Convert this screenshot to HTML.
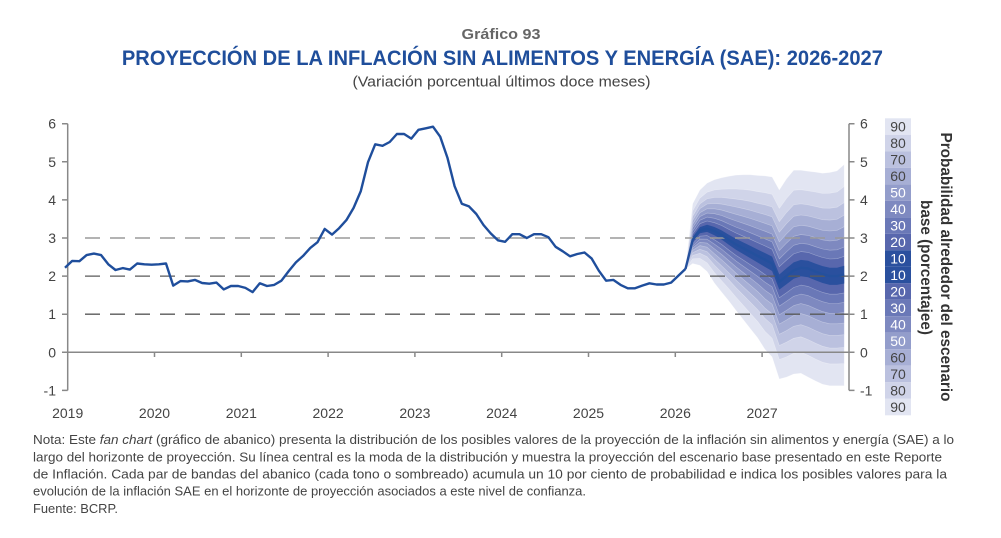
<!DOCTYPE html>
<html><head><meta charset="utf-8">
<style>
html,body{margin:0;padding:0;background:#fff;}
svg{display:block;}
text{font-family:"Liberation Sans",sans-serif;}
</style></head><body>
<svg id="s" width="1001" height="538" viewBox="0 0 1001 538" xmlns="http://www.w3.org/2000/svg">
<rect width="1001" height="538" fill="#fff"/>
<text x="501" y="39" text-anchor="middle" font-size="14.5" font-weight="bold" fill="#666" textLength="79" lengthAdjust="spacingAndGlyphs">Gráfico 93</text>
<text x="502.4" y="65" text-anchor="middle" font-size="21" font-weight="bold" fill="#1f4e9b" textLength="761" lengthAdjust="spacingAndGlyphs">PROYECCIÓN DE LA INFLACIÓN SIN ALIMENTOS Y ENERGÍA (SAE): 2026-2027</text>
<text x="501.5" y="86.5" text-anchor="middle" font-size="15" fill="#444" textLength="298" lengthAdjust="spacingAndGlyphs">(Variación porcentual últimos doce meses)</text>

<g id="fan"></g>

<!-- gridlines -->
<line x1="85" y1="238" x2="849" y2="238" stroke="#9a9a9a" stroke-width="1.6" stroke-dasharray="15 10"/>
<line x1="85" y1="276.1" x2="849" y2="276.1" stroke="#5a5a5a" stroke-width="1.3" stroke-dasharray="15 10"/>
<line x1="85" y1="314.2" x2="849" y2="314.2" stroke="#5a5a5a" stroke-width="1.3" stroke-dasharray="15 10"/>

<!-- axes -->
<g stroke="#888" stroke-width="1.5" fill="none">
<line x1="67.7" y1="352.3" x2="849" y2="352.3"/>
<line x1="67.7" y1="123.7" x2="67.7" y2="390.4"/>
<line x1="849" y1="123.7" x2="849" y2="390.4"/>
<path d="M62,123.7H67.7M62,161.8H67.7M62,199.9H67.7M62,238H67.7M62,276.1H67.7M62,314.2H67.7M62,352.3H67.7M62,390.4H67.7"/>
<path d="M849,123.7H854.5M849,161.8H854.5M849,199.9H854.5M849,238H854.5M849,276.1H854.5M849,314.2H854.5M849,352.3H854.5M849,390.4H854.5"/>
<path d="M154.5,352.3V357M241.3,352.3V357M328.1,352.3V357M414.9,352.3V357M501.7,352.3V357M588.5,352.3V357M675.3,352.3V357M762.1,352.3V357"/>
</g>

<g font-size="14" fill="#444" text-anchor="end">
<text x="56" y="128.7">6</text>
<text x="56" y="166.8">5</text>
<text x="56" y="204.9">4</text>
<text x="56" y="243">3</text>
<text x="56" y="281.1">2</text>
<text x="56" y="319.2">1</text>
<text x="56" y="357.3">0</text>
<text x="56" y="395.4">-1</text>
</g>
<g font-size="14" fill="#444" text-anchor="start">
<text x="860" y="128.7">6</text>
<text x="860" y="166.8">5</text>
<text x="860" y="204.9">4</text>
<text x="860" y="243">3</text>
<text x="860" y="281.1">2</text>
<text x="860" y="319.2">1</text>
<text x="860" y="357.3">0</text>
<text x="860" y="395.4">-1</text>
</g>
<g font-size="14" fill="#444" text-anchor="middle">
<text x="67.7" y="418">2019</text>
<text x="154.5" y="418">2020</text>
<text x="241.3" y="418">2021</text>
<text x="328.1" y="418">2022</text>
<text x="414.9" y="418">2023</text>
<text x="501.7" y="418">2024</text>
<text x="588.5" y="418">2025</text>
<text x="675.3" y="418">2026</text>
<text x="762.1" y="418">2027</text>
</g>

<path id="hist" fill="none" stroke="#1f4e9c" stroke-width="2.4" stroke-linejoin="round"/>
<path id="proj" fill="none" stroke="#24509d" stroke-width="2.4" stroke-linejoin="round"/>

<!-- legend -->
<g>
<rect x="885" y="118.3" width="26" height="16.5" fill="#e2e5f2"/>
<rect x="885" y="134.8" width="26" height="16.5" fill="#d0d4e9"/>
<rect x="885" y="151.3" width="26" height="16.5" fill="#bbc1df"/>
<rect x="885" y="167.8" width="26" height="16.5" fill="#a7afd5"/>
<rect x="885" y="184.3" width="26" height="16.5" fill="#939dcb"/>
<rect x="885" y="200.8" width="26" height="16.5" fill="#7e89c0"/>
<rect x="885" y="217.3" width="26" height="16.5" fill="#6a78b7"/>
<rect x="885" y="233.8" width="26" height="16.5" fill="#5867ad"/>
<rect x="885" y="250.3" width="26" height="16.5" fill="#2a509e"/>
<rect x="885" y="266.8" width="26" height="16.5" fill="#2a509e"/>
<rect x="885" y="283.3" width="26" height="16.5" fill="#5867ad"/>
<rect x="885" y="299.8" width="26" height="16.5" fill="#6a78b7"/>
<rect x="885" y="316.3" width="26" height="16.5" fill="#7e89c0"/>
<rect x="885" y="332.8" width="26" height="16.5" fill="#939dcb"/>
<rect x="885" y="349.3" width="26" height="16.5" fill="#a7afd5"/>
<rect x="885" y="365.8" width="26" height="16.5" fill="#bbc1df"/>
<rect x="885" y="382.3" width="26" height="16.5" fill="#d0d4e9"/>
<rect x="885" y="398.8" width="26" height="16.5" fill="#e2e5f2"/>
</g>
<g font-size="14" text-anchor="middle">
<text x="898" y="131.5" fill="#444">90</text>
<text x="898" y="148" fill="#444">80</text>
<text x="898" y="164.5" fill="#444">70</text>
<text x="898" y="181" fill="#444">60</text>
<text x="898" y="197.5" fill="#fff">50</text>
<text x="898" y="214" fill="#fff">40</text>
<text x="898" y="230.5" fill="#fff">30</text>
<text x="898" y="247" fill="#fff">20</text>
<text x="898" y="263.5" fill="#fff">10</text>
<text x="898" y="280" fill="#fff">10</text>
<text x="898" y="296.5" fill="#fff">20</text>
<text x="898" y="313" fill="#fff">30</text>
<text x="898" y="329.5" fill="#fff">40</text>
<text x="898" y="346" fill="#fff">50</text>
<text x="898" y="362.5" fill="#444">60</text>
<text x="898" y="379" fill="#444">70</text>
<text x="898" y="395.5" fill="#444">80</text>
<text x="898" y="412" fill="#444">90</text>
</g>

<text transform="translate(941,267) rotate(90)" text-anchor="middle" font-size="16" font-weight="bold" fill="#333" textLength="269" lengthAdjust="spacingAndGlyphs">Probabilidad alrededor del escenario</text>
<text transform="translate(921,267.5) rotate(90)" text-anchor="middle" font-size="16" font-weight="bold" fill="#333" textLength="135" lengthAdjust="spacingAndGlyphs">base (porcentajee)</text>

<!-- note -->
<g font-size="13" fill="#444">
<text x="33" y="444" textLength="921" lengthAdjust="spacingAndGlyphs">Nota: Este <tspan font-style="italic">fan chart</tspan> (gráfico de abanico) presenta la distribución de los posibles valores de la proyección de la inflación sin alimentos y energía (SAE) a lo</text>
<text x="33" y="461.3" textLength="909" lengthAdjust="spacingAndGlyphs">largo del horizonte de proyección. Su línea central es la moda de la distribución y muestra la proyección del escenario base presentado en este Reporte</text>
<text x="33" y="478.5" textLength="914" lengthAdjust="spacingAndGlyphs">de Inflación. Cada par de bandas del abanico (cada tono o sombreado) acumula un 10 por ciento de probabilidad e indica los posibles valores para la</text>
<text x="33" y="495.7" textLength="553" lengthAdjust="spacingAndGlyphs">evolución de la inflación SAE en el horizonte de proyección asociados a este nivel de confianza.</text>
<text x="33" y="513" textLength="85" lengthAdjust="spacingAndGlyphs">Fuente: BCRP.</text>
</g>
</svg>
<script>
(function(){
var NS="http://www.w3.org/2000/svg";
function Y(v){return 352.3-38.1*v;}
function X(i){return 65+7.215*i;}
var H=[2.22,2.40,2.39,2.55,2.59,2.55,2.31,2.16,2.21,2.17,2.33,2.31,2.30,2.31,2.33,1.75,1.87,1.86,1.90,1.82,1.80,1.83,1.65,1.74,1.74,1.69,1.58,1.81,1.74,1.77,1.88,2.13,2.36,2.53,2.74,2.89,3.24,3.09,3.26,3.47,3.79,4.23,4.99,5.46,5.42,5.52,5.73,5.73,5.61,5.84,5.88,5.92,5.66,5.11,4.36,3.90,3.83,3.63,3.34,3.12,2.94,2.90,3.10,3.10,3.00,3.10,3.10,3.02,2.77,2.65,2.52,2.58,2.62,2.46,2.14,1.88,1.90,1.77,1.68,1.68,1.75,1.81,1.78,1.78,1.83,2.01,2.19];
var d="";
for(var i=0;i<H.length;i++){d+=(i?"L":"M")+X(i).toFixed(1)+","+Y(H[i]).toFixed(1);}
document.getElementById("hist").setAttribute("d",d);
var C=[2.19,2.95,3.20,3.25,3.18,3.08,2.95,2.83,2.73,2.63,2.53,2.43,2.33,1.85,2.00,2.15,2.22,2.20,2.12,2.05,2.00,2.00,2.04];
var T=[2.19,3.90,4.26,4.44,4.53,4.58,4.62,4.65,4.66,4.66,4.64,4.63,4.60,4.26,4.55,4.78,4.78,4.75,4.73,4.70,4.72,4.76,4.93];
var B=[2.19,2.33,2.28,2.12,1.82,1.58,1.35,1.10,0.86,0.62,0.38,0.08,-0.12,-0.70,-0.65,-0.57,-0.55,-0.65,-0.75,-0.84,-0.88,-0.88,-0.88];
var r=[0.08,0.165,0.25,0.34,0.435,0.54,0.655,0.8,1.0];
var col=["#2a509e","#5867ad","#6a78b7","#7e89c0","#939dcb","#a7afd5","#bbc1df","#d0d4e9","#e2e5f2"];
var g=document.getElementById("fan");
for(var k=8;k>=0;k--){
  var p="";
  for(var j=0;j<C.length;j++){
    var v=C[j]+r[k]*(T[j]-C[j]);
    p+=(j?"L":"M")+X(86+j).toFixed(1)+","+Y(v).toFixed(1);
  }
  for(var j=C.length-1;j>=0;j--){
    var v=C[j]-r[k]*(C[j]-B[j]);
    p+="L"+X(86+j).toFixed(1)+","+Y(v).toFixed(1);
  }
  p+="Z";
  var e=document.createElementNS(NS,"path");
  e.setAttribute("d",p);
  e.setAttribute("fill",col[k]);
  e.setAttribute("stroke","#ffffff");
  e.setAttribute("stroke-opacity",k==0?"0":"0.35");
  e.setAttribute("stroke-width","0.6");
  e.setAttribute("stroke-linejoin","round");
  g.appendChild(e);
}
var q="";
for(var j=0;j<C.length;j++){q+=(j?"L":"M")+X(86+j).toFixed(1)+","+Y(C[j]).toFixed(1);}
document.getElementById("proj").setAttribute("d",q);
})();
</script>
</body></html>
